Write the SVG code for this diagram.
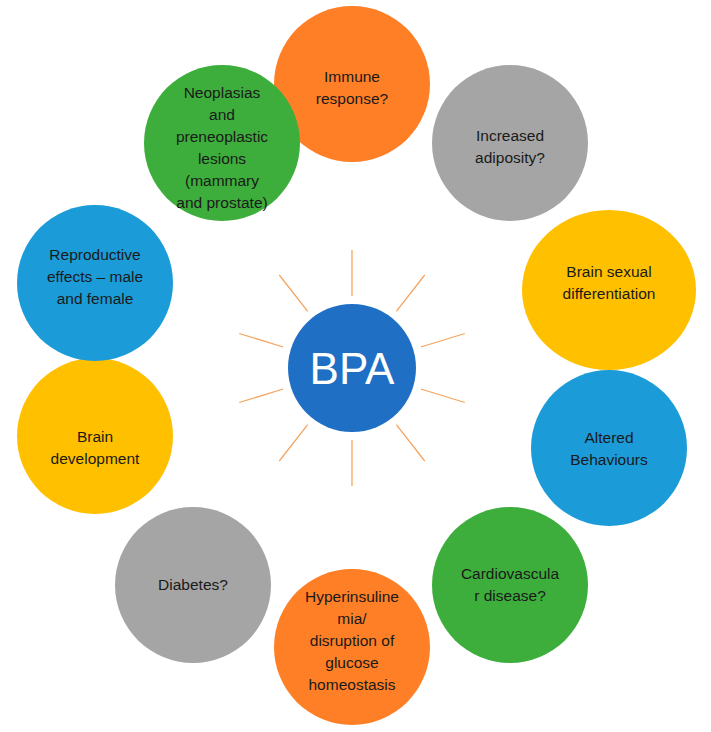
<svg xmlns="http://www.w3.org/2000/svg" width="711" height="732" viewBox="0 0 711 732">
<style>
.t{font-family:"Liberation Sans",Arial,sans-serif;font-size:15.5px;fill:#1a1a1a;text-anchor:middle}
.o{fill:#FF7F27}.g{fill:#A5A5A5}.y{fill:#FFC000}.b{fill:#1B9BD7}.gr{fill:#3DAE3B}
.ray{stroke:#F4A460;stroke-width:1.3}
</style>
<rect width="711" height="732" fill="#fff"/>
<g id="connectors" class="ray">
<line x1="352" y1="296" x2="352" y2="250"/>
<line x1="396.3" y1="311.3" x2="424.7" y2="275"/>
<line x1="420.8" y1="347" x2="464.8" y2="333.5"/>
<line x1="420.8" y1="389" x2="464.8" y2="402.5"/>
<line x1="396.3" y1="424.7" x2="424.7" y2="461"/>
<line x1="352" y1="440" x2="352" y2="486"/>
<line x1="307.7" y1="311.3" x2="279.3" y2="275"/>
<line x1="283.2" y1="347" x2="239.2" y2="333.5"/>
<line x1="283.2" y1="389" x2="239.2" y2="402.5"/>
<line x1="307.7" y1="424.7" x2="279.3" y2="461"/>
</g>
<g id="bpa"><circle cx="352" cy="368" r="64" fill="#1F6FC5"/><text x="352" y="384" style="font-family:'Liberation Sans',Arial,sans-serif;font-size:44px;fill:#fff;text-anchor:middle">BPA</text></g>
<g id="immune"><circle class="o" cx="352" cy="84" r="78"/><text class="t" x="352" y="82">Immune</text><text class="t" x="352" y="104">response?</text></g>
<g id="adiposity"><circle class="g" cx="510" cy="143" r="78"/><text class="t" x="510" y="141">Increased</text><text class="t" x="510" y="163">adiposity?</text></g>
<g id="brainsex"><ellipse class="y" cx="609" cy="290" rx="87" ry="80"/><text class="t" x="609" y="277">Brain sexual</text><text class="t" x="609" y="299">differentiation</text></g>
<g id="behaviours"><circle class="b" cx="609" cy="448" r="78"/><text class="t" x="609" y="443">Altered</text><text class="t" x="609" y="465">Behaviours</text></g>
<g id="cardio"><circle class="gr" cx="510" cy="585" r="78"/><text class="t" x="510" y="579">Cardiovascula</text><text class="t" x="510" y="601">r disease?</text></g>
<g id="hyper"><circle class="o" cx="352" cy="647" r="78"/><text class="t" x="352" y="602">Hyperinsuline</text><text class="t" x="352" y="624">mia/</text><text class="t" x="352" y="646">disruption of</text><text class="t" x="352" y="668">glucose</text><text class="t" x="352" y="690">homeostasis</text></g>
<g id="diabetes"><circle class="g" cx="193" cy="585" r="78"/><text class="t" x="193" y="590">Diabetes?</text></g>
<g id="braindev"><circle class="y" cx="95" cy="436" r="78"/><text class="t" x="95" y="442">Brain</text><text class="t" x="95" y="464">development</text></g>
<g id="repro"><circle class="b" cx="95" cy="283" r="78"/><text class="t" x="95" y="260">Reproductive</text><text class="t" x="95" y="282">effects – male</text><text class="t" x="95" y="304">and female</text></g>
<g id="neo"><circle class="gr" cx="222" cy="143" r="78"/><text class="t" x="222" y="98">Neoplasias</text><text class="t" x="222" y="120">and</text><text class="t" x="222" y="142">preneoplastic</text><text class="t" x="222" y="164">lesions</text><text class="t" x="222" y="186">(mammary</text><text class="t" x="222" y="208">and prostate)</text></g>
</svg>
